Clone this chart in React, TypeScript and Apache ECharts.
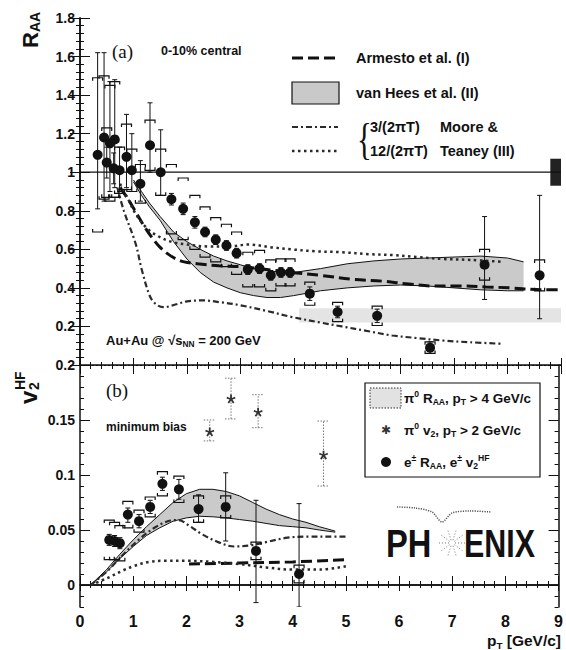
import React, { useEffect, useRef } from 'react';
import * as echarts from 'echarts';

// ---------- axes ----------
const v2Ticks = [0, 0.05, 0.1, 0.15, 0.2];

// ---------- panel (a): heavy-flavour electron R_AA, 0-10% central ----------
const eRaaX = [0.33, 0.45, 0.50, 0.56, 0.63, 0.65, 0.74, 0.87, 0.97, 1.13, 1.31, 1.51, 1.71, 1.93, 2.15, 2.34, 2.54, 2.74, 2.93, 3.14, 3.36, 3.57, 3.76, 3.93, 4.30, 4.82, 5.56, 6.55, 7.57, 8.60];
const eRaaY = [1.09, 1.18, 1.05, 1.15, 1.02, 1.17, 1.01, 1.08, 1.01, 0.94, 1.14, 1.00, 0.86, 0.81, 0.74, 0.69, 0.65, 0.62, 0.58, 0.495, 0.50, 0.465, 0.48, 0.48, 0.37, 0.275, 0.255, 0.09, 0.52, 0.465];
const eRaaLo = [0.81, 0.85, 0.97, 0.90, 0.94, 0.92, 0.90, 0.92, 0.90, 0.85, 1.00, 0.88, 0.83, 0.78, 0.71, 0.665, 0.625, 0.595, 0.555, 0.47, 0.475, 0.44, 0.455, 0.455, 0.335, 0.245, 0.22, 0.06, 0.34, 0.24];
const eRaaHi = [1.62, 1.62, 1.13, 1.47, 1.10, 1.48, 1.13, 1.30, 1.20, 1.06, 1.36, 1.22, 0.89, 0.84, 0.77, 0.715, 0.675, 0.645, 0.605, 0.52, 0.525, 0.49, 0.505, 0.505, 0.405, 0.305, 0.29, 0.12, 0.77, 0.88];
const eRaaSys = [0.40, 0.32, 0.18, 0.30, 0.15, 0.30, 0.12, 0.17, 0.11, 0.10, 0.13, 0.12, 0.18, 0.16, 0.14, 0.13, 0.115, 0.11, 0.11, 0.09, 0.095, 0.08, 0.07, 0.07, 0.06, 0.05, 0.05, 0.03, 0.08, 0.08];

// Armesto et al. (I)
const armX = [0.75, 0.9, 1.05, 1.2, 1.35, 1.5, 1.65, 1.8, 1.95, 2.2, 2.6, 3.0, 3.5, 3.95, 4.5, 5.1, 5.65, 6.15, 6.6, 7.1, 7.6, 8.05, 8.65, 9.0];
const armY = [0.92, 0.86, 0.79, 0.72, 0.66, 0.61, 0.575, 0.55, 0.535, 0.525, 0.515, 0.51, 0.495, 0.48, 0.465, 0.445, 0.435, 0.42, 0.41, 0.41, 0.405, 0.40, 0.39, 0.39];

// van Hees et al. (II) band
const vhX = [1.0, 1.15, 1.3, 1.5, 1.75, 2.0, 2.25, 2.5, 2.75, 3.0, 3.25, 3.5, 3.75, 4.0, 4.5, 5.0, 5.5, 6.0, 6.5, 7.0, 7.5, 8.0, 8.3];
const vhHi = [0.96, 0.90, 0.84, 0.77, 0.69, 0.64, 0.60, 0.565, 0.54, 0.52, 0.50, 0.49, 0.48, 0.48, 0.50, 0.525, 0.54, 0.55, 0.555, 0.56, 0.565, 0.555, 0.535];
const vhLo = [0.95, 0.88, 0.82, 0.75, 0.64, 0.55, 0.48, 0.43, 0.40, 0.375, 0.36, 0.35, 0.35, 0.36, 0.385, 0.40, 0.41, 0.415, 0.41, 0.40, 0.39, 0.385, 0.385];

// Moore & Teaney (III), 3/(2πT)
const m3X = [0.7, 0.82, 1.04, 1.16, 1.32, 1.45, 1.57, 1.8, 2.0, 2.3, 2.64, 3.0, 3.5, 3.95, 4.5, 4.9, 5.4, 5.84, 6.3, 6.78, 7.3, 7.9];
const m3Y = [0.92, 0.80, 0.63, 0.49, 0.35, 0.31, 0.30, 0.315, 0.33, 0.335, 0.325, 0.31, 0.28, 0.25, 0.22, 0.20, 0.175, 0.153, 0.14, 0.127, 0.118, 0.11];

// Moore & Teaney (III), 12/(2πT)
const m12X = [0.75, 0.9, 1.05, 1.25, 1.45, 1.7, 2.0, 2.4, 2.8, 3.15, 3.6, 3.95, 4.4, 4.9, 5.4, 5.85, 6.3, 6.8, 7.3, 7.9];
const m12Y = [0.94, 0.86, 0.78, 0.71, 0.67, 0.64, 0.625, 0.615, 0.615, 0.625, 0.61, 0.60, 0.59, 0.585, 0.575, 0.57, 0.56, 0.55, 0.545, 0.535];

// π0 R_AA (pT > 4 GeV/c) band
const pi0BandX = [4.1, 9.0];
const pi0BandLo = [0.22, 0.22];
const pi0BandHi = [0.295, 0.295];

// normalisation uncertainty box at R_AA = 1
const normBox = [8.8, 0.93, 9.0, 1.07];
const unity = [[0, 1], [9, 1]];

// ---------- panel (b): v2, minimum bias ----------
const eV2X = [0.55, 0.65, 0.75, 0.90, 1.11, 1.32, 1.55, 1.86, 2.23, 2.74, 3.31, 4.12];
const eV2Y = [0.041, 0.040, 0.038, 0.064, 0.058, 0.071, 0.092, 0.087, 0.069, 0.071, 0.031, 0.010];
const eV2Lo = [0.036, 0.035, 0.033, 0.057, 0.052, 0.065, 0.086, 0.078, 0.057, 0.040, -0.016, -0.02];
const eV2Hi = [0.046, 0.045, 0.043, 0.070, 0.064, 0.077, 0.098, 0.096, 0.082, 0.102, 0.077, 0.074];
const eV2Sys = [0.018, 0.017, 0.016, 0.012, 0.010, 0.009, 0.011, 0.012, 0.012, 0.010, 0.008, 0.008];

const p0V2X = [2.44, 2.84, 3.35, 4.58];
const p0V2Y = [0.139, 0.169, 0.157, 0.118];
const p0V2Lo = [0.131, 0.151, 0.143, 0.090];
const p0V2Hi = [0.150, 0.188, 0.173, 0.149];

const vh2X = [0.2, 0.5, 0.75, 1.0, 1.25, 1.5, 1.75, 2.0, 2.25, 2.5, 2.75, 3.0, 3.25, 3.5, 3.75, 4.0, 4.25, 4.5, 4.8];
const vh2Lo = [0, 0.012, 0.024, 0.035, 0.045, 0.052, 0.058, 0.061, 0.0625, 0.062, 0.061, 0.0595, 0.058, 0.056, 0.054, 0.053, 0.052, 0.050, 0.048];
const vh2Hi = [0, 0.014, 0.028, 0.041, 0.053, 0.064, 0.075, 0.083, 0.087, 0.087, 0.085, 0.081, 0.075, 0.069, 0.064, 0.060, 0.057, 0.053, 0.049];

const m3bX = [0.2, 0.5, 0.8, 1.1, 1.4, 1.65, 1.85, 2.05, 2.3, 2.6, 2.9, 3.2, 3.5, 3.9, 4.3, 4.7, 5.0];
const m3bY = [0, 0.012, 0.027, 0.041, 0.052, 0.058, 0.059, 0.054, 0.046, 0.039, 0.035, 0.036, 0.039, 0.043, 0.044, 0.044, 0.044];

const m12bX = [0.2, 0.5, 0.8, 1.0, 1.3, 1.6, 2.0, 2.5, 3.0, 3.5, 4.0, 4.5, 5.0];
const m12bY = [0, 0.006, 0.013, 0.017, 0.021, 0.022, 0.022, 0.021, 0.019, 0.016, 0.014, 0.014, 0.017];

const armBX = [2.05, 3.0, 4.0, 5.0];
const armBY = [0.019, 0.020, 0.021, 0.023];

const zero = [[0, 0], [9, 0]];

// ---------- styling helpers ----------
const sans = 'Liberation Sans, Arial, Helvetica, sans-serif';
const serif = 'Liberation Serif, Times New Roman, serif';
const ink = '#111';

const pairs = (xs: number[], ys: number[]) => xs.map((x, i) => [x, ys[i]]);

const errRender = (color: string, dash: number[] | null, cap: number) => (params: any, api: any) => {
  const x = api.value(0), lo = api.value(1), hi = api.value(2);
  const a = api.coord([x, lo]);
  const b = api.coord([x, hi]);
  const style: any = { stroke: color, lineWidth: 1, fill: 'none' };
  if (dash) style.lineDash = dash;
  return {
    type: 'group',
    children: [
      { type: 'line', shape: { x1: a[0], y1: a[1], x2: b[0], y2: b[1] }, style },
      { type: 'line', shape: { x1: a[0] - cap, y1: a[1], x2: a[0] + cap, y2: a[1] }, style },
      { type: 'line', shape: { x1: b[0] - cap, y1: b[1], x2: b[0] + cap, y2: b[1] }, style },
    ],
  };
};

const sysRender = (params: any, api: any) => {
  const x = api.value(0), y = api.value(1), s = api.value(2);
  const t = api.coord([x, y + s]);
  const b = api.coord([x, y - s]);
  const w = 5, h = 3;
  const style = { stroke: ink, lineWidth: 1.2, fill: 'none' };
  return {
    type: 'group',
    children: [
      { type: 'polyline', shape: { points: [[t[0] - w, t[1] + h], [t[0] - w, t[1]], [t[0] + w, t[1]], [t[0] + w, t[1] + h]] }, style },
      { type: 'polyline', shape: { points: [[b[0] - w, b[1] - h], [b[0] - w, b[1]], [b[0] + w, b[1]], [b[0] + w, b[1] - h]] }, style },
    ],
  };
};

const bandRender = (xs: number[], lo: number[], hi: number[], fill: string, stroke: string | null) => (params: any, api: any) => {
  const up = xs.map((x, i) => api.coord([x, hi[i]]));
  const dn = xs.map((x, i) => api.coord([x, lo[i]]));
  const children: any[] = [
    { type: 'polygon', shape: { points: up.concat(dn.slice().reverse()) }, style: { fill, stroke: 'none' } },
  ];
  if (stroke) {
    children.push({ type: 'polyline', shape: { points: up }, style: { stroke, lineWidth: 1, fill: 'none' } });
    children.push({ type: 'polyline', shape: { points: dn }, style: { stroke, lineWidth: 1, fill: 'none' } });
  }
  return { type: 'group', children };
};

const boxRender = (params: any, api: any) => {
  const a = api.coord([api.value(0), api.value(1)]);
  const b = api.coord([api.value(2), api.value(3)]);
  return { type: 'rect', shape: { x: a[0], y: b[1], width: b[0] - a[0], height: a[1] - b[1] }, style: { fill: '#222' } };
};

const asterisk = 'path://M4,0 L6,0 L6,3.6 L9.4,2.2 L10,4 L6.6,5 L8.8,8 L7.2,9.2 L5,6.2 L2.8,9.2 L1.2,8 L3.4,5 L0,4 L0.6,2.2 L4,3.6 Z';

const lineSeries = (data: number[][], xi: number, yi: number, lineStyle: any, z = 4) => ({
  type: 'line', data, xAxisIndex: xi, yAxisIndex: yi, showSymbol: false, symbol: 'none', smooth: 0.35,
  lineStyle, z, silent: true,
});

const armStyle = { color: ink, width: 3, type: [11, 5] };
const m3Style = { color: '#2a2a2a', width: 2.2, type: [6, 3, 2, 3] };
const m12Style = { color: '#2a2a2a', width: 2.5, type: [2.5, 3.5] };

const tickLine = { color: ink, width: 1 };
const frame = { show: true, lineStyle: { color: ink, width: 1.5 } };

const xBase = (gridIndex: number, position: string, extra: any) => ({
  type: 'value', gridIndex, position, min: 0, max: 9, interval: 1,
  axisTick: { show: true, inside: true, length: 9, lineStyle: tickLine },
  minorTick: { show: true, splitNumber: 5, length: 4, lineStyle: tickLine },
  axisLabel: { show: false }, splitLine: { show: false }, minorSplitLine: { show: false },
  ...extra,
});

const labelStyle = { color: ink, fontSize: 14, fontWeight: 'bold', fontFamily: sans, margin: 5 };

const subSup = (size: number) => ({
  sub: { fontSize: size * 0.64, fontWeight: 'bold', fontFamily: sans, fill: ink, color: ink, verticalAlign: 'bottom', lineHeight: size * 0.72 },
  sup: { fontSize: size * 0.64, fontWeight: 'bold', fontFamily: sans, fill: ink, color: ink, verticalAlign: 'top', lineHeight: size * 0.72 },
});

const txt = (x: number, y: number, text: string, size = 14.5, extra: any = {}) => ({
  type: 'text', x, y, z: 10,
  style: {
    text, fill: ink, fontSize: size, fontWeight: 'bold', fontFamily: sans,
    verticalAlign: 'middle', align: 'left', lineHeight: size * 1.3, rich: subSup(size), ...extra,
  },
});

const sparkle = () => {
  const cx = 452, cy = 543, out: any[] = [];
  for (let k = 0; k < 10; k++) {
    const a = (k / 10) * Math.PI * 2;
    out.push({
      type: 'line', z: 10,
      shape: { x1: cx + 3 * Math.cos(a), y1: cy + 3 * Math.sin(a), x2: cx + 13 * Math.cos(a), y2: cy + 13 * Math.sin(a) },
      style: { stroke: '#777', lineWidth: 1, lineDash: [1, 2] },
    });
  }
  return out;
};

const graphics: any[] = [
  // panel (a) annotations
  txt(112, 51, '(a)', 19, { fontFamily: serif, fontWeight: 'normal' }),
  txt(161, 51, '0-10% central', 12.5),
  { type: 'line', z: 10, shape: { x1: 292, y1: 58, x2: 338, y2: 58 }, style: { stroke: ink, lineWidth: 3, lineDash: [11, 5] } },
  txt(356, 58, 'Armesto et al. (I)', 14.5),
  { type: 'rect', z: 10, shape: { x: 292, y: 82, width: 47, height: 22 }, style: { fill: '#c9c9c9', stroke: ink, lineWidth: 1.2 } },
  txt(356, 93, 'van Hees et al. (II)', 14.5),
  { type: 'line', z: 10, shape: { x1: 292, y1: 127, x2: 338, y2: 127 }, style: { stroke: '#2a2a2a', lineWidth: 2.2, lineDash: [6, 3, 2, 3] } },
  { type: 'line', z: 10, shape: { x1: 292, y1: 151, x2: 338, y2: 151 }, style: { stroke: '#2a2a2a', lineWidth: 2.5, lineDash: [2.5, 3.5] } },
  { type: 'text', z: 10, x: 357, y: 139, scaleX: 0.7, style: { text: '{', fill: ink, fontSize: 44, fontFamily: serif, verticalAlign: 'middle', align: 'left' } },
  txt(370, 127, '3/(2πT)', 14.5),
  txt(370, 151, '12/(2πT)', 14.5),
  txt(440, 127, 'Moore &', 14.5),
  txt(440, 151, 'Teaney (III)', 14.5),
  txt(106, 340, 'Au+Au @ √s{sub|NN} = 200 GeV', 13),
  // panel (b) annotations
  txt(106, 390, '(b)', 19, { fontFamily: serif, fontWeight: 'normal' }),
  txt(106, 427, 'minimum bias', 12),
  { type: 'rect', z: 9, shape: { x: 365, y: 383, width: 175, height: 94 }, style: { fill: '#fff', stroke: ink, lineWidth: 1.2 } },
  { type: 'rect', z: 10, shape: { x: 370, y: 388, width: 31, height: 20 }, style: { fill: '#e2e2e2', stroke: '#333', lineWidth: 1, lineDash: [1.5, 1.5] } },
  txt(404, 398, 'π{sup|0} R{sub|AA}, p{sub|T} > 4 GeV/c', 13.5),
  { type: 'text', z: 10, x: 386, y: 430, style: { text: '✱', fill: '#333', fontSize: 12, fontFamily: 'DejaVu Sans', align: 'center', verticalAlign: 'middle' } },
  txt(404, 430, 'π{sup|0} v{sub|2}, p{sub|T} > 2 GeV/c', 13.5),
  { type: 'circle', z: 10, shape: { cx: 386, cy: 462, r: 5 }, style: { fill: ink } },
  txt(404, 462, 'e{sup|±} R{sub|AA}, e{sup|±} v{sub|2}{sup|HF}', 13.5),
  // PHENIX logo
  { type: 'text', z: 10, x: 386, y: 544, scaleX: 0.86, style: { text: 'PH', fill: ink, fontSize: 38, fontWeight: 'bold', fontFamily: sans, verticalAlign: 'middle', align: 'left' } },
  { type: 'text', z: 10, x: 464, y: 544, scaleX: 0.8, style: { text: 'ENIX', fill: ink, fontSize: 38, fontWeight: 'bold', fontFamily: sans, verticalAlign: 'middle', align: 'left' } },
  { type: 'polyline', z: 10, shape: { points: [[397, 507], [415, 508], [432, 512], [442, 522], [452, 513], [470, 511], [491, 512]], smooth: 0.3 }, style: { stroke: '#555', lineWidth: 1.5, lineDash: [1.2, 1.2], fill: 'none' } },
  ...sparkle(),
  // axis titles
  {
    type: 'group', x: 30, y: 48, rotation: Math.PI / 2, z: 10,
    children: [
      { type: 'text', x: 0, y: 0, style: { text: 'R', fill: ink, fontSize: 22, fontWeight: 'bold', fontFamily: sans, verticalAlign: 'middle', align: 'left' } },
      { type: 'text', x: 16, y: 5, style: { text: 'AA', fill: ink, fontSize: 14, fontWeight: 'bold', fontFamily: sans, verticalAlign: 'middle', align: 'left' } },
    ],
  },
  {
    type: 'group', x: 28, y: 404, rotation: Math.PI / 2, z: 10,
    children: [
      { type: 'text', x: 0, y: 0, style: { text: 'v', fill: ink, fontSize: 24, fontWeight: 'bold', fontFamily: sans, verticalAlign: 'middle', align: 'left' } },
      { type: 'text', x: 14, y: 6, style: { text: '2', fill: ink, fontSize: 14, fontWeight: 'bold', fontFamily: sans, verticalAlign: 'middle', align: 'left' } },
      { type: 'text', x: 14, y: -8, style: { text: 'HF', fill: ink, fontSize: 14, fontWeight: 'bold', fontFamily: sans, verticalAlign: 'middle', align: 'left' } },
    ],
  },
  txt(561, 640, 'p{sub|T} [GeV/c]', 15.5, { align: 'right' }),
];

const option: any = {
  animation: false,
  backgroundColor: '#fff',
  grid: [
    { left: 80, top: 18, width: 481, height: 347 },
    { left: 80, top: 365, width: 481, height: 242 },
  ],
  xAxis: [
    xBase(0, 'bottom', { axisLine: { show: true, lineStyle: { color: ink, width: 1, type: [2, 2] } }, axisTick: { show: true, inside: true, length: 7, lineStyle: tickLine }, minorTick: { show: true, splitNumber: 5, length: 3, lineStyle: tickLine } }),
    xBase(0, 'top', { axisLine: frame }),
    xBase(1, 'bottom', { axisLine: frame, axisLabel: { show: true, ...labelStyle, fontSize: 16, margin: 6 } }),
    xBase(1, 'top', { axisLine: { show: false }, axisTick: { show: true, inside: true, length: 6, lineStyle: tickLine }, minorTick: { show: true, splitNumber: 5, length: 3, lineStyle: tickLine } }),
  ],
  yAxis: [
    {
      type: 'value', gridIndex: 0, position: 'left', min: 0, max: 1.8, interval: 0.2,
      axisLine: frame, axisTick: { show: true, inside: true, length: 10, lineStyle: tickLine },
      minorTick: { show: true, splitNumber: 5, length: 4, lineStyle: tickLine },
      axisLabel: { ...labelStyle, formatter: (v: number) => { const r = Math.round(v * 10) / 10; return r === 0 ? '' : String(r); } },
      splitLine: { show: false },
    },
    {
      type: 'value', gridIndex: 0, position: 'right', min: 0, max: 1.8, interval: 0.2,
      axisLine: frame, axisTick: { show: true, inside: true, length: 10, lineStyle: tickLine },
      minorTick: { show: true, splitNumber: 5, length: 4, lineStyle: tickLine },
      axisLabel: { show: false }, splitLine: { show: false },
    },
    {
      type: 'value', gridIndex: 1, position: 'left', min: -0.02, max: 0.2,
      axisLine: frame,
      axisTick: { show: true, inside: true, length: 10, lineStyle: tickLine, customValues: v2Ticks },
      axisLabel: { ...labelStyle, customValues: v2Ticks, formatter: (v: number) => String(Math.round(v * 100) / 100) },
      splitLine: { show: false },
    },
    {
      type: 'value', gridIndex: 1, position: 'left', min: -0.02, max: 0.2, interval: 0.01,
      axisLine: { show: false }, axisTick: { show: true, inside: true, length: 4, lineStyle: tickLine },
      axisLabel: { show: false }, splitLine: { show: false },
    },
    {
      type: 'value', gridIndex: 1, position: 'right', min: -0.02, max: 0.2,
      axisLine: frame,
      axisTick: { show: true, inside: true, length: 10, lineStyle: tickLine, customValues: v2Ticks },
      axisLabel: { show: false }, splitLine: { show: false },
    },
    {
      type: 'value', gridIndex: 1, position: 'right', min: -0.02, max: 0.2, interval: 0.01,
      axisLine: { show: false }, axisTick: { show: true, inside: true, length: 4, lineStyle: tickLine },
      axisLabel: { show: false }, splitLine: { show: false },
    },
  ],
  graphic: graphics,
  series: [
    // ---- panel (a) ----
    { type: 'custom', xAxisIndex: 0, yAxisIndex: 0, z: 1, clip: true, silent: true,
      data: [[pi0BandX[0], pi0BandLo[0], pi0BandHi[0]]], encode: { x: 0, y: [1, 2] },
      renderItem: bandRender(pi0BandX, pi0BandLo, pi0BandHi, '#e4e4e4', null) },
    { type: 'custom', xAxisIndex: 0, yAxisIndex: 0, z: 2, clip: true, silent: true,
      data: [[vhX[0], vhLo[0], vhHi[0]]], encode: { x: 0, y: [1, 2] },
      renderItem: bandRender(vhX, vhLo, vhHi, '#cacaca', ink) },
    lineSeries(unity, 0, 0, { color: ink, width: 1.2 }, 3),
    { type: 'custom', xAxisIndex: 0, yAxisIndex: 0, z: 3, clip: true, silent: true,
      data: [normBox], encode: { x: [0, 2], y: [1, 3] }, renderItem: boxRender },
    lineSeries(pairs(armX, armY), 0, 0, armStyle),
    lineSeries(pairs(m3X, m3Y), 0, 0, m3Style),
    lineSeries(pairs(m12X, m12Y), 0, 0, m12Style),
    { type: 'custom', xAxisIndex: 0, yAxisIndex: 0, z: 5, clip: true, silent: true,
      data: eRaaX.map((x, i) => [x, eRaaY[i], eRaaSys[i]]), encode: { x: 0, y: 1 }, renderItem: sysRender },
    { type: 'custom', xAxisIndex: 0, yAxisIndex: 0, z: 5, clip: true, silent: true,
      data: eRaaX.map((x, i) => [x, eRaaLo[i], eRaaHi[i]]), encode: { x: 0, y: [1, 2] }, renderItem: errRender(ink, null, 2.5) },
    { type: 'scatter', xAxisIndex: 0, yAxisIndex: 0, z: 6, symbol: 'circle', symbolSize: 10, silent: true,
      itemStyle: { color: ink, opacity: 1 }, data: pairs(eRaaX, eRaaY) },
    // ---- panel (b) ----
    { type: 'custom', xAxisIndex: 2, yAxisIndex: 2, z: 2, clip: true, silent: true,
      data: [[vh2X[0], vh2Lo[0], vh2Hi[0]]], encode: { x: 0, y: [1, 2] },
      renderItem: bandRender(vh2X, vh2Lo, vh2Hi, '#cacaca', ink) },
    lineSeries(zero, 2, 2, { color: ink, width: 1.5 }, 3),
    lineSeries(pairs(armBX, armBY), 2, 2, armStyle),
    lineSeries(pairs(m3bX, m3bY), 2, 2, m3Style),
    lineSeries(pairs(m12bX, m12bY), 2, 2, m12Style),
    { type: 'custom', xAxisIndex: 2, yAxisIndex: 2, z: 4, clip: true, silent: true,
      data: p0V2X.map((x, i) => [x, p0V2Lo[i], p0V2Hi[i]]), encode: { x: 0, y: [1, 2] }, renderItem: errRender('#777', [1.5, 1.5], 6) },
    { type: 'scatter', xAxisIndex: 2, yAxisIndex: 2, z: 5, symbol: asterisk, symbolSize: 9, silent: true,
      itemStyle: { color: '#333', opacity: 1 }, data: pairs(p0V2X, p0V2Y) },
    { type: 'custom', xAxisIndex: 2, yAxisIndex: 2, z: 5, clip: true, silent: true,
      data: eV2X.map((x, i) => [x, eV2Y[i], eV2Sys[i]]), encode: { x: 0, y: 1 }, renderItem: sysRender },
    { type: 'custom', xAxisIndex: 2, yAxisIndex: 2, z: 5, clip: true, silent: true,
      data: eV2X.map((x, i) => [x, eV2Lo[i], eV2Hi[i]]), encode: { x: 0, y: [1, 2] }, renderItem: errRender(ink, null, 2.5) },
    { type: 'scatter', xAxisIndex: 2, yAxisIndex: 2, z: 6, symbol: 'circle', symbolSize: 10, silent: true,
      itemStyle: { color: ink, opacity: 1 }, data: pairs(eV2X, eV2Y) },
  ],
};

export default function App() {
  const ref = useRef<HTMLDivElement>(null);
  useEffect(() => {
    const chart = echarts.init(ref.current as HTMLDivElement, null, { renderer: 'svg' });
    chart.setOption(option);
    return () => chart.dispose();
  }, []);
  return (
    <div
      ref={ref}
      style={{ position: 'fixed', left: 0, top: 0, width: 566, height: 650, background: '#fff' }}
    />
  );
}
